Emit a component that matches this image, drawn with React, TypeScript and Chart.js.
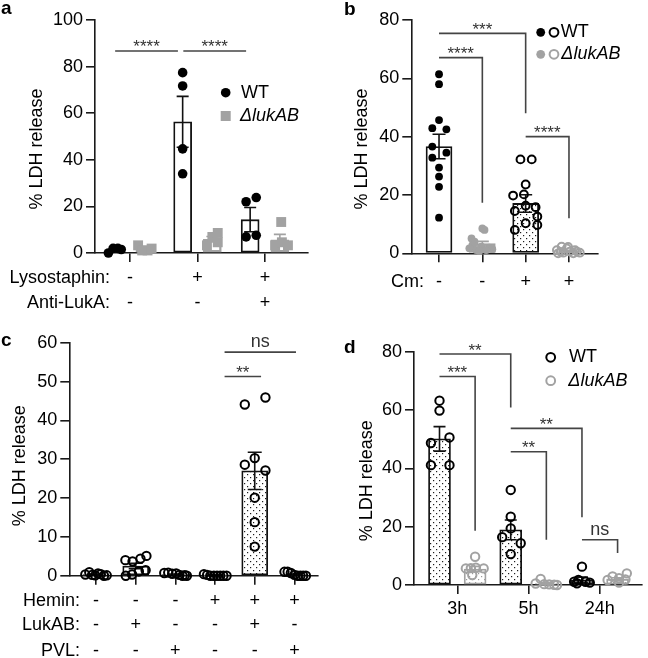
import React, { useEffect, useRef } from 'react';
import { Chart, registerables } from 'chart.js';

Chart.register(...registerables);

const FONT = '"Liberation Sans", Arial, Helvetica, sans-serif';
const GRAY = '#a2a2a2';
const AXIS = '#1a1a1a';
const LINE = '#444444';
const W = 324;
const H = 329;

// ---------------- Panel a ----------------
const aTicks = [1, 2, 3];
const aLysostaphin = ['-', '+', '+'];
const aAntiLukA = ['-', '-', '+'];
const aSlots = [0.78, 1.22, 1.78, 2.22, 2.78, 3.22];
const aMeans = [1.4, 1.9, 56.3, 5.9, 14.3, 5.6];
const aSems = [0.5, 0.6, 10.9, 1.2, 5.2, 2.4];
const aPoints = [
  [0, 2.0, 2.0, 1.5],
  [3.3, 1.1, 1.1, 1.9],
  [77.4, 71.7, 44.7, 34.0],
  [3.3, 6.9, 8.6, 4.6],
  [22.0, 23.8, 6.9, 7.6],
  [13.3, 3.3, 4.6, 3.3],
];
const aJitter = [
  [-0.1, -0.03, 0.04, 0.09],
  [-0.1, -0.04, 0.04, 0.1],
  [0, 0, 0, 0],
  [-0.08, 0, 0.08, 0.08],
  [-0.06, 0.09, -0.06, 0.09],
  [0.02, -0.07, 0.03, 0.12],
];

// ---------------- Panel b ----------------
const bTicks = [1, 2, 3, 4];
const bCm = ['-', '-', '+', '+'];
const bSlots = [1, 2, 3, 4];
const bMeans = [36.6, 3.3, 17.1, 0.7];
const bSems = [4.2, 0.8, 3.0, 0.25];
const bPoints = [
  [61.4, 58.0, 45.7, 42.9, 42.5, 36.6, 34.5, 32.8, 29.4, 26.3, 22.8, 12.2],
  [8.5, 8.0, 5.1, 4.0, 2.8, 2.3, 1.9, 1.7, 1.4, 1.1, 1.1, 0.8],
  [32.2, 32.2, 23.6, 20.2, 19.8, 16.3, 15.8, 14.5, 12.6, 10.3, 9.7, 8.0],
  [1.1, 2.3, 1.7, 0.6, 0.6, 0.2, 0, 0, 0.2, 2.2, 0.5, 1.1],
];
const bJitter = [
  [0, 0, 0, -0.155, 0.17, -0.155, 0.17, -0.155, 0, 0, 0, 0],
  [0, 0.05, -0.25, -0.18, -0.23, -0.02, 0.16, -0.3, 0.23, -0.14, 0.09, -0.07],
  [-0.12, 0.14, 0, -0.04, -0.29, 0, 0.23, -0.25, 0.27, 0, 0.27, -0.25],
  [-0.28, -0.17, -0.05, 0.02, 0.18, 0.25, -0.25, 0.1, -0.13, -0.02, -0.19, 0.14],
];

// ---------------- Panel c ----------------
const cTicks = [1, 2, 3, 4, 5, 6];
const cHemin = ['-', '-', '-', '+', '+', '+'];
const cLukAB = ['-', '+', '-', '-', '+', '-'];
const cPVL = ['-', '-', '+', '-', '-', '+'];
const cSlots = [1, 2, 3, 4, 5, 6];
const cMeans = [0.3, 2.5, 0.3, 0.1, 27.0, 0.3];
const cSems = [0.1, 0.7, 0.1, 0.05, 4.8, 0.15];
const cPoints = [
  [0.3, 0.9, 0.2, 0.1, 0.6, 0.4, 0, 0.1],
  [4.0, 3.7, 4.4, 5.1, 0, 1.1, 1.4, 0.3],
  [0.7, 0.8, 0.5, 0.6, 0.2, 0, 0.1, 0],
  [0.4, 0.2, 0, 0, 0, 0, 0, 0],
  [44.1, 45.9, 30.3, 28.6, 27.1, 20.1, 13.8, 7.5],
  [1.0, 1.0, 0.7, 0.2, 0, 0, 0, 0],
];
const cJitter = [
  [-0.27, -0.17, -0.1, -0.02, 0.05, 0.12, 0.2, 0.27],
  [-0.26, -0.08, 0.12, 0.27, -0.25, 0.08, 0.25, -0.09],
  [-0.28, -0.18, -0.08, 0.02, 0.1, 0.18, 0.24, 0.29],
  [-0.28, -0.2, -0.12, -0.03, 0.05, 0.13, 0.21, 0.29],
  [-0.25, 0.27, 0, -0.25, 0.27, 0, 0, 0],
  [-0.25, -0.17, -0.09, 0, 0.08, 0.15, 0.22, 0.29],
];

// ---------------- Panel d ----------------
const dTicks = [1, 2, 3];
const dTimes = ['3h', '5h', '24h'];
const dSlots = [0.75, 1.25, 1.75, 2.25, 2.75, 3.25];
const dMeans = [50.1, 5.5, 18.9, 0.5, 1.8, 2.0];
const dSems = [4.2, 0.9, 3.4, 0.3, 0.9, 0.5];
const dPoints = [
  [63.2, 59.8, 48.7, 50.6, 41.1, 41.1],
  [9.7, 5.7, 5.8, 5.9, 5.7, 3.4],
  [32.6, 23.4, 19.4, 16.4, 14.3, 10.6],
  [2.1, 0.5, 0.3, 0.2, 0.1, 0.0],
  [6.3, 1.1, 1.7, 1.1, 0.8, 0.6],
  [2.9, 2.3, 4.0, 1.7, 1.9, 0.8],
];
const dJitter = [
  [0, 0, -0.12, 0.14, -0.12, 0.14],
  [0, -0.13, -0.06, 0.01, 0.12, -0.04],
  [0, 0, 0, -0.12, 0.14, 0],
  [-0.08, -0.15, -0.03, 0.04, 0.11, 0.15],
  [0, -0.11, -0.05, 0.05, 0.11, -0.07],
  [-0.07, 0.02, 0.13, -0.14, 0.11, 0.02],
];

// ---------------- types ----------------
type Fill = 'white' | 'dots' | 'grayDots' | 'none';
type Mark = 'disc' | 'square' | 'grayDisc' | 'ring' | 'grayRing';
type GroupStyle = { fill: Fill; border: string; err: string; mark: Mark };
type Row = { label: string; values: string[] };
type Bracket = { x1: number; x2: number; y: number; drop?: number; text: string };
type LegendRow = { y: number; marks: { m: Mark; x: number }[]; text: string; textX: number; italic: boolean };
type PanelSpec = {
  letter: string;
  pos: [number, number];
  area: { left: number; top: number; right: number; bottom: number };
  yMax: number;
  yStep: number;
  xMin: number;
  xMax: number;
  ticks: number[];
  slots: number[];
  means: number[];
  sems: number[];
  points: number[][];
  jitter: number[][];
  styles: GroupStyle[];
  radius: number;
  squareRadius: number;
  ringWidth: number;
  barWidth: number;
  cap: number;
  rows: Row[];
  rowOffsets: number[];
  rowLabelRight: number;
  brackets: Bracket[];
  legend: LegendRow[];
  legendRadius: number;
  letterPos: [number, number];
  titlePos: [number, number];
};

const wtWhite: GroupStyle = { fill: 'white', border: '#111', err: '#111', mark: 'disc' };

const specA: PanelSpec = {
  letter: 'a',
  pos: [0, 0],
  area: { left: 95, top: 20, right: 308, bottom: 253 },
  yMax: 100,
  yStep: 20,
  xMin: 0.4815,
  xMax: 3.637,
  ticks: aTicks,
  slots: aSlots,
  means: aMeans,
  sems: aSems,
  points: aPoints,
  jitter: aJitter,
  styles: [
    wtWhite,
    { fill: 'none', border: GRAY, err: GRAY, mark: 'square' },
    wtWhite,
    { fill: 'none', border: GRAY, err: GRAY, mark: 'square' },
    wtWhite,
    { fill: 'none', border: GRAY, err: GRAY, mark: 'square' },
  ],
  radius: 4.8,
  squareRadius: 7,
  ringWidth: 2,
  barWidth: 18,
  cap: 6,
  rows: [
    { label: 'Lysostaphin:', values: aLysostaphin },
    { label: 'Anti-LukA:', values: aAntiLukA },
  ],
  rowOffsets: [25, 50],
  rowLabelRight: 110,
  brackets: [
    { x1: 0.78, x2: 1.71, y: 86.7, text: '****' },
    { x1: 1.79, x2: 2.72, y: 86.7, text: '****' },
  ],
  legend: [
    { y: 92.7, marks: [{ m: 'disc', x: 225.7 }], text: 'WT', textX: 241, italic: false },
    { y: 116, marks: [{ m: 'square', x: 225.7 }], text: 'ΔlukAB', textX: 240, italic: true },
  ],
  legendRadius: 4.8,
  letterPos: [1, 14],
  titlePos: [37, 149],
};

const specB: PanelSpec = {
  letter: 'b',
  pos: [324, 0],
  area: { left: 87.3, top: 20, right: 274, bottom: 253.3 },
  yMax: 80,
  yStep: 20,
  xMin: 0.36,
  xMax: 4.67,
  ticks: bTicks,
  slots: bSlots,
  means: bMeans,
  sems: bSems,
  points: bPoints,
  jitter: bJitter,
  styles: [
    { fill: 'white', border: '#111', err: '#111', mark: 'disc' },
    { fill: 'none', border: GRAY, err: GRAY, mark: 'grayDisc' },
    { fill: 'dots', border: '#111', err: '#111', mark: 'ring' },
    { fill: 'none', border: GRAY, err: GRAY, mark: 'grayRing' },
  ],
  radius: 3.9,
  squareRadius: 7,
  ringWidth: 2,
  barWidth: 26,
  cap: 6.5,
  rows: [{ label: 'Cm:', values: bCm }],
  rowOffsets: [28.4],
  rowLabelRight: 100,
  brackets: [
    { x1: 1, x2: 2, y: 67.1, drop: 17.3, text: '****' },
    { x1: 1, x2: 3, y: 75.4, drop: 48, text: '***' },
    { x1: 3, x2: 4, y: 40, drop: 12, text: '****' },
  ],
  legend: [
    { y: 32.3, marks: [{ m: 'disc', x: 216.7 }, { m: 'ring', x: 230 }], text: 'WT', textX: 236.7, italic: false },
    { y: 54.3, marks: [{ m: 'grayDisc', x: 216.7 }, { m: 'grayRing', x: 230 }], text: 'ΔlukAB', textX: 237.3, italic: true },
  ],
  legendRadius: 4.4,
  letterPos: [20, 15],
  titlePos: [38.3, 149],
};

const specC: PanelSpec = {
  letter: 'c',
  pos: [0, 329],
  area: { left: 69.3, top: 13.3, right: 324, bottom: 246.7 },
  yMax: 60,
  yStep: 10,
  xMin: 0.326,
  xMax: 6.59,
  ticks: cTicks,
  slots: cSlots,
  means: cMeans,
  sems: cSems,
  points: cPoints,
  jitter: cJitter,
  styles: [
    { fill: 'white', border: '#111', err: '#111', mark: 'ring' },
    { fill: 'white', border: '#111', err: '#111', mark: 'ring' },
    { fill: 'white', border: '#111', err: '#111', mark: 'ring' },
    { fill: 'dots', border: '#111', err: '#111', mark: 'ring' },
    { fill: 'dots', border: '#111', err: '#111', mark: 'ring' },
    { fill: 'dots', border: '#111', err: '#111', mark: 'ring' },
  ],
  radius: 4.2,
  squareRadius: 7,
  ringWidth: 2,
  barWidth: 26,
  cap: 7,
  rows: [
    { label: 'Hemin:', values: cHemin },
    { label: 'LukAB:', values: cLukAB },
    { label: 'PVL:', values: cPVL },
  ],
  rowOffsets: [25, 49.3, 75],
  rowLabelRight: 80,
  brackets: [
    { x1: 4.24, x2: 6.04, y: 57.6, text: 'ns' },
    { x1: 4.24, x2: 5.16, y: 51.3, text: '**' },
  ],
  legend: [],
  legendRadius: 4.4,
  letterPos: [1, 17],
  titlePos: [20, 136.7],
};

const specD: PanelSpec = {
  letter: 'd',
  pos: [324, 329],
  area: { left: 90, top: 22.7, right: 323, bottom: 256 },
  yMax: 80,
  yStep: 20,
  xMin: 0.392,
  xMax: 3.59,
  ticks: dTicks,
  slots: dSlots,
  means: dMeans,
  sems: dSems,
  points: dPoints,
  jitter: dJitter,
  styles: [
    { fill: 'dots', border: '#111', err: '#111', mark: 'ring' },
    { fill: 'grayDots', border: GRAY, err: GRAY, mark: 'grayRing' },
    { fill: 'dots', border: '#111', err: '#111', mark: 'ring' },
    { fill: 'grayDots', border: GRAY, err: GRAY, mark: 'grayRing' },
    { fill: 'dots', border: '#111', err: '#111', mark: 'ring' },
    { fill: 'grayDots', border: GRAY, err: GRAY, mark: 'grayRing' },
  ],
  radius: 4.2,
  squareRadius: 7,
  ringWidth: 2,
  barWidth: 22,
  cap: 6,
  rows: [{ label: '', values: dTimes }],
  rowOffsets: [24],
  rowLabelRight: 0,
  brackets: [
    { x1: 0.75, x2: 1.75, y: 79.2, drop: 60.9, text: '**' },
    { x1: 0.75, x2: 1.25, y: 71.5, drop: 18.6, text: '***' },
    { x1: 1.75, x2: 2.75, y: 53.7, drop: 23.2, text: '**' },
    { x1: 1.75, x2: 2.25, y: 45.7, drop: 15.5, text: '**' },
    { x1: 2.75, x2: 3.25, y: 15.5, drop: 11, text: 'ns' },
  ],
  legend: [
    { y: 28.3, marks: [{ m: 'ring', x: 226.7 }], text: 'WT', textX: 245, italic: false },
    { y: 51.7, marks: [{ m: 'grayRing', x: 226.7 }], text: 'ΔlukAB', textX: 244.3, italic: true },
  ],
  legendRadius: 4.4,
  letterPos: [20, 24],
  titlePos: [43.3, 151.7],
};

const SPECS = [specA, specB, specC, specD];

function makePattern(ctx: CanvasRenderingContext2D, color: string) {
  const t = document.createElement('canvas');
  t.width = 6;
  t.height = 6;
  const g = t.getContext('2d')!;
  g.fillStyle = '#ffffff';
  g.fillRect(0, 0, 6, 6);
  g.fillStyle = color;
  g.fillRect(1, 1, 1.2, 1.2);
  g.fillRect(4, 4, 1.2, 1.2);
  return ctx.createPattern(t, 'repeat');
}

function markStyle(m: Mark, spec: PanelSpec, r?: number) {
  const rad = r ?? spec.radius;
  switch (m) {
    case 'disc':
      return { pointStyle: 'circle', backgroundColor: '#000', borderColor: '#000', borderWidth: 0, radius: rad };
    case 'grayDisc':
      return { pointStyle: 'circle', backgroundColor: GRAY, borderColor: GRAY, borderWidth: 0, radius: rad };
    case 'square':
      return { pointStyle: 'rect', backgroundColor: GRAY, borderColor: GRAY, borderWidth: 0, radius: spec.squareRadius };
    case 'ring':
      return { pointStyle: 'circle', backgroundColor: 'rgba(0,0,0,0)', borderColor: '#000', borderWidth: spec.ringWidth, radius: rad };
    default:
      return { pointStyle: 'circle', backgroundColor: 'rgba(0,0,0,0)', borderColor: GRAY, borderWidth: spec.ringWidth, radius: rad };
  }
}

function drawMark(c: CanvasRenderingContext2D, m: Mark, x: number, y: number, r: number, spec: PanelSpec) {
  c.save();
  if (m === 'square') {
    c.fillStyle = GRAY;
    const s = 10;
    c.fillRect(x - s / 2, y - s / 2, s, s);
  } else {
    c.beginPath();
    c.arc(x, y, r, 0, Math.PI * 2);
    if (m === 'disc' || m === 'grayDisc') {
      c.fillStyle = m === 'disc' ? '#000' : GRAY;
      c.fill();
    } else {
      c.lineWidth = spec.ringWidth;
      c.strokeStyle = m === 'ring' ? '#000' : GRAY;
      c.stroke();
    }
  }
  c.restore();
}

function buildConfig(spec: PanelSpec, dots: any, grayDots: any) {
  const fillFor = (f: Fill) =>
    f === 'white' ? '#ffffff' : f === 'dots' ? dots : f === 'grayDots' ? grayDots : 'rgba(255,255,255,0)';

  const datasets: any[] = [
    {
      type: 'bar',
      data: spec.slots.map((x, i) => ({ x, y: spec.means[i] })),
      grouped: false,
      barThickness: spec.barWidth,
      backgroundColor: spec.styles.map((s) => fillFor(s.fill)),
      borderColor: spec.styles.map((s) => s.border),
      borderWidth: 1.8,
      borderSkipped: false,
      order: 2,
      clip: false,
    },
  ];
  spec.points.forEach((vals, g) => {
    datasets.push({
      type: 'scatter',
      data: vals.map((v, k) => ({ x: spec.slots[g] + spec.jitter[g][k], y: v })),
      ...markStyle(spec.styles[g].mark, spec),
      hoverRadius: spec.radius,
      order: 1,
      clip: false,
    });
  });

  const decor = {
    id: 'decor' + spec.letter,
    afterDatasetDraw(chart: any, args: any) {
      if (args.index !== 0) return;
      const c: CanvasRenderingContext2D = chart.ctx;
      const ys = chart.scales.y;
      c.save();
      c.lineWidth = 1.6;
      args.meta.data.forEach((el: any, i: number) => {
        const m = spec.means[i];
        const s = spec.sems[i];
        const x = el.x;
        const yt = ys.getPixelForValue(m + s);
        const yb = ys.getPixelForValue(Math.max(0, m - s));
        c.strokeStyle = spec.styles[i].err;
        c.beginPath();
        c.moveTo(x, yt);
        c.lineTo(x, yb);
        c.moveTo(x - spec.cap, yt);
        c.lineTo(x + spec.cap, yt);
        c.moveTo(x - spec.cap, yb);
        c.lineTo(x + spec.cap, yb);
        c.stroke();
      });
      c.restore();
    },
    afterDraw(chart: any) {
      const c: CanvasRenderingContext2D = chart.ctx;
      const xs = chart.scales.x;
      const ys = chart.scales.y;
      const bottom = chart.chartArea.bottom;
      c.save();
      // panel letter
      c.fillStyle = '#000';
      c.font = `bold 19px ${FONT}`;
      c.textAlign = 'left';
      c.textBaseline = 'alphabetic';
      c.fillText(spec.letter, spec.letterPos[0], spec.letterPos[1]);
      // y title
      c.save();
      c.translate(spec.titlePos[0], spec.titlePos[1]);
      c.rotate(-Math.PI / 2);
      c.font = `18px ${FONT}`;
      c.textAlign = 'center';
      c.textBaseline = 'middle';
      c.fillText('% LDH release', 0, 0);
      c.restore();
      // condition table
      c.font = `18px ${FONT}`;
      c.textBaseline = 'middle';
      spec.rows.forEach((row, r) => {
        const y = bottom + spec.rowOffsets[r];
        if (row.label) {
          c.textAlign = 'right';
          c.fillText(row.label, spec.rowLabelRight, y);
        }
        c.textAlign = 'center';
        row.values.forEach((v, i) => {
          c.fillText(v, xs.getPixelForValue(spec.ticks[i]), y);
        });
      });
      // significance brackets
      c.strokeStyle = LINE;
      c.lineWidth = 1.6;
      c.fillStyle = '#333';
      spec.brackets.forEach((b) => {
        const x1 = xs.getPixelForValue(b.x1);
        const x2 = xs.getPixelForValue(b.x2);
        const y = ys.getPixelForValue(b.y);
        c.beginPath();
        c.moveTo(x1, y);
        c.lineTo(x2, y);
        if (b.drop !== undefined) c.lineTo(x2, ys.getPixelForValue(b.drop));
        c.stroke();
        c.textAlign = 'center';
        c.textBaseline = 'alphabetic';
        if (b.text === 'ns') {
          c.font = `18px ${FONT}`;
          c.fillText(b.text, (x1 + x2) / 2, y - 5);
        } else {
          c.font = `17px ${FONT}`;
          c.fillText(b.text, (x1 + x2) / 2, y + 1.5);
        }
      });
      // legend
      spec.legend.forEach((l) => {
        l.marks.forEach((mk) => drawMark(c, mk.m, mk.x, l.y, spec.legendRadius, spec));
        c.fillStyle = '#000';
        c.font = `${l.italic ? 'italic ' : ''}18px ${FONT}`;
        c.textAlign = 'left';
        c.textBaseline = 'middle';
        c.fillText(l.text, l.textX, l.y);
      });
      c.restore();
    },
  };

  const axisGrid = { display: true, drawOnChartArea: false, drawTicks: true, tickLength: 9, color: AXIS, lineWidth: 1.6 };

  return {
    type: 'bar',
    data: { datasets },
    options: {
      animation: false,
      responsive: false,
      maintainAspectRatio: false,
      events: [],
      layout: { padding: { left: 0, top: spec.area.top, right: W - spec.area.right, bottom: 0 } },
      plugins: { legend: { display: false }, tooltip: { enabled: false }, title: { display: false } },
      scales: {
        x: {
          type: 'linear',
          min: spec.xMin,
          max: spec.xMax,
          offset: false,
          afterBuildTicks: (s: any) => {
            s.ticks = spec.ticks.map((v) => ({ value: v }));
          },
          afterFit: (s: any) => {
            s.height = H - spec.area.bottom;
          },
          ticks: { display: false },
          grid: { ...axisGrid, offset: false },
          border: { display: true, color: AXIS, width: 1.6 },
        },
        y: {
          type: 'linear',
          min: 0,
          max: spec.yMax,
          afterFit: (s: any) => {
            s.width = spec.area.left;
          },
          ticks: { stepSize: spec.yStep, color: '#000', font: { size: 18, family: FONT }, padding: 3 },
          grid: axisGrid,
          border: { display: true, color: AXIS, width: 1.6 },
        },
      },
    },
    plugins: [decor],
  } as any;
}

function Panel({ spec }: { spec: PanelSpec }) {
  const ref = useRef<HTMLCanvasElement>(null);
  useEffect(() => {
    const canvas = ref.current!;
    const ctx = canvas.getContext('2d')!;
    const dots = makePattern(ctx, '#1e1e1e');
    const grayDots = makePattern(ctx, '#9a9a9a');
    const chart = new Chart(ctx, buildConfig(spec, dots, grayDots));
    return () => chart.destroy();
  }, [spec]);
  return (
    <canvas
      ref={ref}
      width={W}
      height={H}
      style={{ position: 'absolute', left: spec.pos[0], top: spec.pos[1], width: W, height: H, display: 'block' }}
    />
  );
}

export default function App() {
  return (
    <div style={{ position: 'absolute', left: 0, top: 0, width: 648, height: 658, background: '#fff', overflow: 'hidden' }}>
      {SPECS.map((s) => (
        <Panel key={s.letter} spec={s} />
      ))}
    </div>
  );
}
